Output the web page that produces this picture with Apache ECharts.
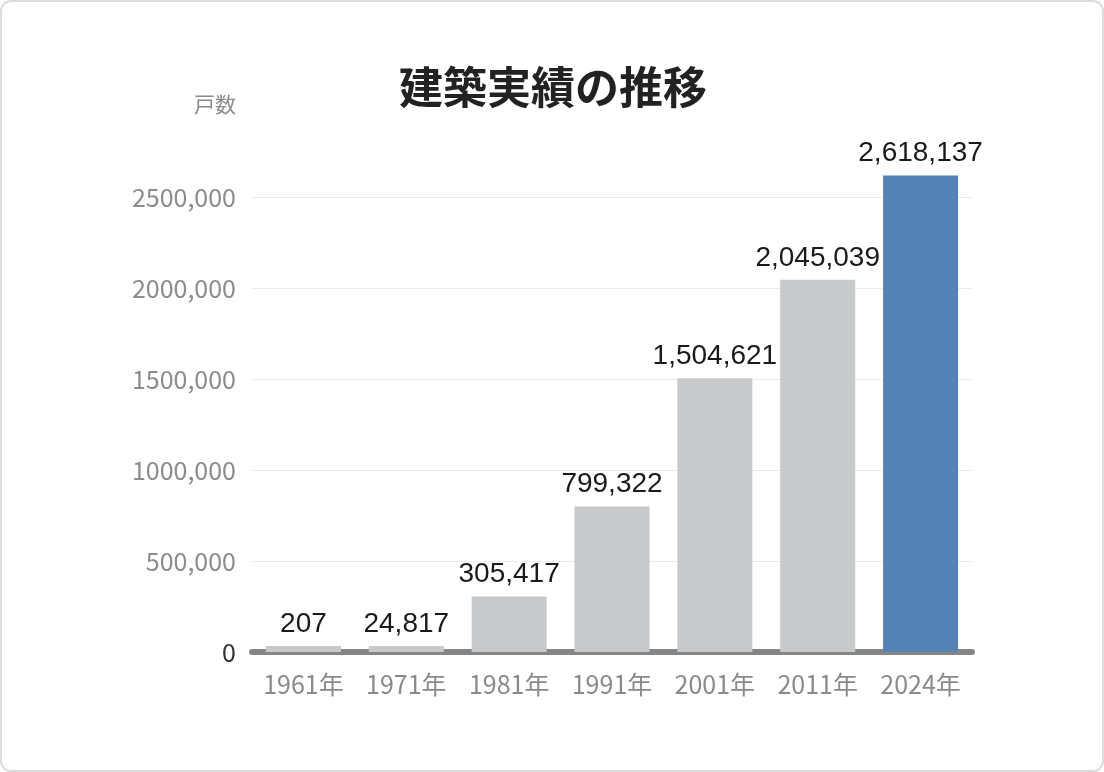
<!DOCTYPE html>
<html>
<head>
<meta charset="utf-8">
<script src="https://cdn.jsdelivr.net/npm/echarts@6/dist/echarts.min.js"></script>
<style>
  html, body { margin: 0; padding: 0; background: #fff; }
  #main { width: 1104px; height: 772px; }
</style>
</head>
<body>
<div id="main"></div>
<script>
// 建築実績の推移
var years = ['1961年', '1971年', '1981年', '1991年', '2001年', '2011年', '2024年'];
var units = [207, 24817, 305417, 799322, 1504621, 2045039, 2618137];
var highlightYear = '2024年';

var grayBar = '#c7c9cb';
var blueBar = '#5482b4';

function fmtTick(v) {
  if (v === 0) return '0';
  return (v / 1000) + ',000';
}

function fmtNum(v) {
  return v.toString().replace(/\B(?=(\d{3})+(?!\d))/g, ',');
}

var chart = echarts.init(document.getElementById('main'));

var option = {
  backgroundColor: '#fff',
  animation: false,
  title: {
    text: '建築実績の推移',
    left: 548,
    textAlign: 'center',
    top: 60,
    textStyle: {
      fontFamily: 'Noto Sans CJK JP',
      fontSize: 44,
      fontWeight: 'bold',
      color: '#222'
    }
  },
  graphic: [{
    type: 'rect',
    shape: { x: 1, y: 1, width: 1102, height: 770, r: 10 },
    style: { fill: 'none', stroke: '#dcdcdc', lineWidth: 2 },
    silent: true
  }],
  grid: {
    left: 252,
    right: 132,
    top: 197,
    bottom: 120
  },
  xAxis: {
    type: 'category',
    data: years,
    axisLine: { lineStyle: { color: '#858585', width: 6 } },
    axisTick: { show: false },
    axisLabel: {
      interval: 0,
      margin: 20,
      fontFamily: 'Noto Sans CJK JP',
      fontSize: 25,
      color: '#8a8a8a'
    }
  },
  yAxis: {
    type: 'value',
    min: 0,
    max: 2500000,
    interval: 500000,
    name: '戸数',
    nameLocation: 'end',
    nameGap: 82,
    nameTextStyle: {
      fontFamily: 'Noto Sans CJK JP',
      fontSize: 21,
      color: '#8a8a8a',
      align: 'right',
      padding: [0, 16, 0, 0]
    },
    axisLine: { show: false },
    axisTick: { show: false },
    splitLine: { lineStyle: { color: '#ececec', width: 1 } },
    axisLabel: {
      margin: 16,
      fontFamily: 'Noto Sans CJK JP',
      fontSize: 25,
      color: function (v) { return Number(v) === 0 ? '#333' : '#8c8c8c'; },
      formatter: fmtTick
    }
  },
  series: [{
    type: 'bar',
    clip: false,
    barWidth: 75,
    barMinHeight: 6,
    data: units.map(function (v, i) {
      return {
        value: v,
        itemStyle: { color: years[i] === highlightYear ? blueBar : grayBar }
      };
    }),
    label: {
      show: true,
      position: 'top',
      distance: 8,
      fontFamily: 'Liberation Sans, Arial, sans-serif',
      fontSize: 28,
      color: '#1a1a1a',
      formatter: function (p) { return fmtNum(p.value); }
    }
  }]
};

chart.setOption(option);
</script>
</body>
</html>
